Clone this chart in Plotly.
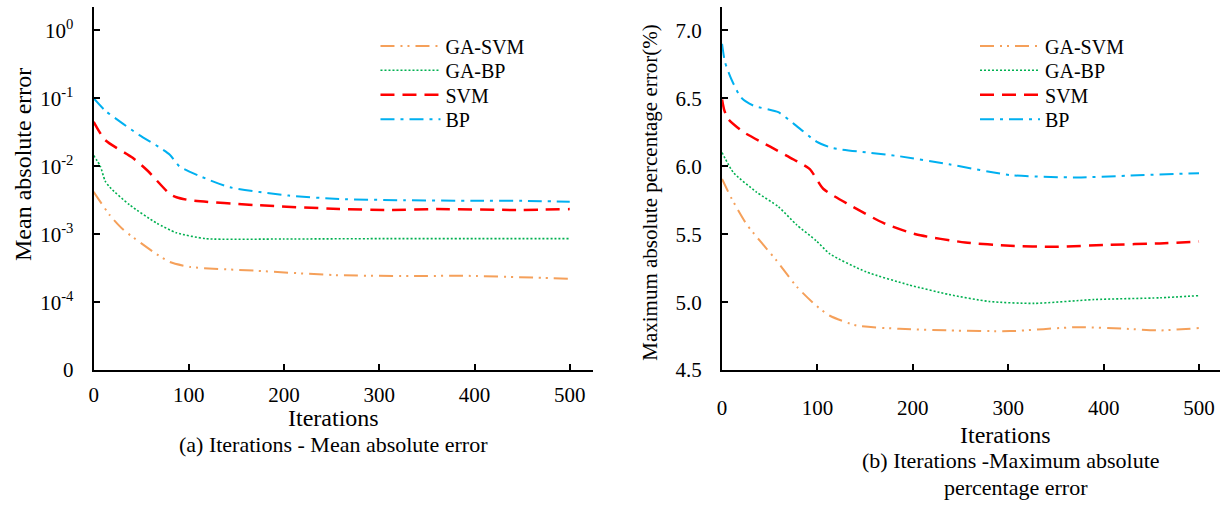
import plotly.graph_objects as go

# ---------- data: (a) mean absolute error ----------
a_gasvm_x = [0, 17, 31, 66, 80, 101, 170, 254, 343, 385, 465, 500]
a_gasvm_y = [0.0042, 0.0019, 0.00117, 0.00051, 0.00039, 0.00033, 0.00029, 0.00025, 0.000242, 0.000245, 0.000229, 0.00022]
a_gabp_x = [0, 7, 12, 17, 38, 66, 87, 118, 200, 300, 400, 500]
a_gabp_y = [0.0144, 0.010, 0.0061, 0.0049, 0.00268, 0.00146, 0.00105, 0.00086, 0.00085, 0.00086, 0.00086, 0.00086]
a_svm_x = [0, 12, 41, 57, 80, 87, 101, 170, 258, 308, 360, 447, 500]
a_svm_y = [0.045, 0.0243, 0.0133, 0.0085, 0.0039, 0.0035, 0.00316, 0.00268, 0.00235, 0.00227, 0.00234, 0.00227, 0.00234]
a_bp_x = [0, 12, 31, 48, 69, 80, 90, 111, 143, 205, 258, 326, 400, 450, 500]
a_bp_y = [0.1, 0.066, 0.042, 0.0287, 0.019, 0.0148, 0.010, 0.0072, 0.0049, 0.0037, 0.0033, 0.00316, 0.0031, 0.0031, 0.0030]

# ---------- data: (b) maximum absolute percentage error ----------
b_gasvm_x = [0, 10, 26, 57, 78, 99, 113, 141, 186, 238, 302, 372, 420, 459, 500]
b_gasvm_y = [5.906, 5.762, 5.57, 5.307, 5.116, 4.972, 4.90, 4.828, 4.804, 4.792, 4.787, 4.816, 4.805, 4.792, 4.81]
b_gabp_x = [0, 12, 36, 59, 78, 99, 113, 151, 196, 238, 280, 327, 390, 459, 500]
b_gabp_y = [6.10, 5.953, 5.81, 5.702, 5.57, 5.45, 5.355, 5.223, 5.127, 5.056, 5.005, 4.991, 5.019, 5.032, 5.048]
b_svm_x = [0, 2, 6, 22, 50, 75, 92, 106, 134, 169, 203, 255, 302, 348, 407, 459, 500]
b_svm_y = [6.49, 6.42, 6.35, 6.253, 6.145, 6.049, 5.978, 5.834, 5.714, 5.583, 5.499, 5.439, 5.415, 5.407, 5.422, 5.432, 5.446]
b_bp_x = [0, 3, 10, 20, 33, 59, 75, 99, 116, 151, 186, 238, 302, 372, 424, 500]
b_bp_y = [6.90, 6.768, 6.636, 6.504, 6.445, 6.397, 6.313, 6.181, 6.133, 6.102, 6.073, 6.014, 5.935, 5.917, 5.93, 5.949]

names = ["GA-SVM", "GA-BP", "SVM", "BP"]
colors = ["#F5A05A", "#00B050", "#FF0000", "#00B0F0"]
dashes = ["14px,6px,2px,5px,2px,6px", "2px,2px", "14px,8px", "14px,6px,3px,6px"]
widths = [2, 1.6, 2.5, 2]

x_ticks = [0, 100, 200, 300, 400, 500]
a_ytickvals = [1e-5, 1e-4, 1e-3, 1e-2, 1e-1, 1]
a_yticktext = ["0", "10<sup>-4</sup>", "10<sup>-3</sup>", "10<sup>-2</sup>", "10<sup>-1</sup>", "10<sup>0</sup>"]
b_ytickvals = [4.5, 5.0, 5.5, 6.0, 6.5, 7.0]

FONT = "Liberation Serif"
W, H = 1223, 513

fig = go.Figure()
a_series = [(a_gasvm_x, a_gasvm_y), (a_gabp_x, a_gabp_y), (a_svm_x, a_svm_y), (a_bp_x, a_bp_y)]
b_series = [(b_gasvm_x, b_gasvm_y), (b_gabp_x, b_gabp_y), (b_svm_x, b_svm_y), (b_bp_x, b_bp_y)]

legend_rows = [47, 72, 97, 122]  # legend row centres (px from top)

for i, (xs, ys) in enumerate(a_series):
    fig.add_trace(go.Scatter(x=xs, y=ys, mode="lines", name=names[i], showlegend=True,
                             line=dict(color=colors[i], dash=dashes[i], width=widths[i], shape="spline", smoothing=0.6),
                             xaxis="x", yaxis="y", legend="legend" if i == 0 else f"legend{i + 1}"))
for i, (xs, ys) in enumerate(b_series):
    fig.add_trace(go.Scatter(x=xs, y=ys, mode="lines", name=names[i], showlegend=True,
                             line=dict(color=colors[i], dash=dashes[i], width=widths[i], shape="spline", smoothing=0.6),
                             xaxis="x2", yaxis="y2", legend=f"legend{i + 5}"))

axis_common = dict(showline=True, linecolor="black", linewidth=2, showgrid=False, zeroline=False,
                   ticks="inside", ticklen=6, tickwidth=1.5, tickcolor="black",
                   tickfont=dict(family=FONT, size=21, color="black"))

ydom = [(H - 379) / H, (H - 7) / H]

layout = dict(
    width=W, height=H,
    margin=dict(l=0, r=0, t=0, b=0),
    showlegend=True,
    paper_bgcolor="white", plot_bgcolor="white",
    font=dict(family=FONT, size=20, color="black"),
    xaxis=dict(domain=[89 / W, 590 / W], range=[0, 524], tickvals=x_ticks, anchor="y",
               ticklabelstandoff=5, **axis_common),
    yaxis=dict(domain=ydom, type="log", range=[-5, 0.345], tickvals=a_ytickvals, ticktext=a_yticktext,
               anchor="x", ticklabelstandoff=14, **axis_common),
    xaxis2=dict(domain=[720 / W, 1220 / W], range=[0, 522], tickvals=x_ticks, anchor="y2",
                ticklabelstandoff=18, **axis_common),
    yaxis2=dict(domain=ydom, range=[4.5, 7.172], tickvals=b_ytickvals, tickformat=".1f",
                anchor="x2", ticklabelstandoff=14, **axis_common),
)
for k in range(8):
    key = "legend" if k == 0 else f"legend{k + 1}"
    lx = 372 if k < 4 else 974
    layout[key] = dict(x=lx / W, y=1 - legend_rows[k % 4] / H, xanchor="left", yanchor="middle",
                       bgcolor="rgba(0,0,0,0)", font=dict(family=FONT, size=20, color="black"),
                       itemwidth=60)
fig.update_layout(**layout)

ann_font = dict(family=FONT, size=22, color="black")
annotations = [
    dict(text="Iterations", x=330 / W, y=1 - 428 / H, font=dict(family=FONT, size=24, color="black")),
    dict(text="(a) Iterations - Mean absolute error", x=330 / W, y=1 - 455 / H, font=ann_font),
    dict(text="Iterations", x=1005 / W, y=1 - 445 / H, font=dict(family=FONT, size=24, color="black")),
    dict(text="(b) Iterations -Maximum absolute", x=1010 / W, y=1 - 472 / H, font=ann_font),
    dict(text="percentage error", x=1015 / W, y=1 - 499 / H, font=ann_font),
]
for a in annotations:
    fig.add_annotation(xref="paper", yref="paper", showarrow=False, xanchor="center", yanchor="middle", **a)
fig.add_annotation(text="Mean absolute error", xref="paper", yref="paper", x=18 / W, y=1 - 168 / H,
                   textangle=-90, showarrow=False, xanchor="center", yanchor="middle",
                   font=dict(family=FONT, size=24, color="black"))
fig.add_annotation(text="Maximum absolute percentage error(%)", xref="paper", yref="paper", x=648 / W, y=1 - 197 / H,
                   textangle=-90, showarrow=False, xanchor="center", yanchor="middle",
                   font=dict(family=FONT, size=21, color="black"))

fig.write_html("out.html", config={"displayModeBar": False},
               post_script="document.body.style.margin='0px';document.body.style.overflow='hidden';")
